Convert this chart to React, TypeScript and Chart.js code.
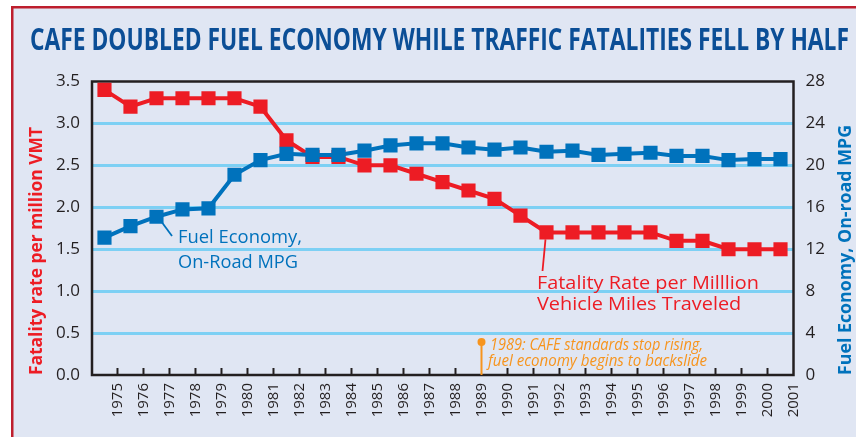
import React, { useEffect, useRef } from 'react';
import { Chart, registerables } from 'chart.js';

Chart.register(...registerables);

// ---------- data ----------
const years = [1975, 1976, 1977, 1978, 1979, 1980, 1981, 1982, 1983, 1984, 1985, 1986, 1987, 1988, 1989, 1990, 1991, 1992, 1993, 1994, 1995, 1996, 1997, 1998, 1999, 2000, 2001];
const fatalityRate = [3.4, 3.2, 3.3, 3.3, 3.3, 3.3, 3.2, 2.8, 2.6, 2.6, 2.5, 2.5, 2.4, 2.3, 2.2, 2.1, 1.9, 1.7, 1.7, 1.7, 1.7, 1.7, 1.6, 1.6, 1.5, 1.5, 1.5];
const fuelEconomy = [13.1, 14.2, 15.1, 15.8, 15.9, 19.1, 20.5, 21.1, 21.0, 21.0, 21.4, 21.9, 22.1, 22.1, 21.7, 21.5, 21.7, 21.3, 21.4, 21.0, 21.1, 21.2, 20.9, 20.9, 20.5, 20.6, 20.6];
const leftMin = 0;
const leftMax = 3.5;
const leftStep = 0.5;
const rightMin = 0;
const rightMax = 28;
const rightStep = 4;
const markerYear = 1989;

const TITLE = 'CAFE DOUBLED FUEL ECONOMY WHILE TRAFFIC FATALITIES FELL BY HALF';
const LEFT_TITLE = 'Fatality rate per million VMT';
const RIGHT_TITLE = 'Fuel Economy, On-road MPG';
const BLUE_LABEL = ['Fuel Economy,', 'On-Road MPG'];
const RED_LABEL = ['Fatality Rate per Milllion', 'Vehicle Miles Traveled'];
const NOTE = ['1989: CAFE standards stop rising,', 'fuel economy begins to backslide'];

// ---------- styles ----------
const RED = '#ed1c24';
const BLUE = '#0072bc';
const ORANGE = '#f7941d';
const GRID = '#7dd0f4';
const BG = '#e0e6f3';
const FRAME_RED = '#be1e2d';
const TITLE_COLOR = '#0b4e96';
const INK = '#231f20';
const FONT = "'Open Sans'";

function drawFitted(
  ctx: CanvasRenderingContext2D,
  text: string,
  x: number,
  y: number,
  width: number,
  font: string,
  color: string,
  align: CanvasTextAlign,
  angle = 0
) {
  ctx.save();
  ctx.font = font;
  const w = ctx.measureText(text).width;
  ctx.translate(x, y);
  if (angle) ctx.rotate(angle);
  ctx.scale(width / w, 1);
  ctx.fillStyle = color;
  ctx.textAlign = align;
  ctx.textBaseline = 'alphabetic';
  ctx.fillText(text, 0, 0);
  ctx.restore();
}

function drawScaled(
  ctx: CanvasRenderingContext2D,
  text: string,
  x: number,
  y: number,
  sx: number,
  font: string,
  color: string
) {
  ctx.save();
  ctx.font = font;
  ctx.translate(x, y);
  ctx.scale(sx, 1);
  ctx.fillStyle = color;
  ctx.textAlign = 'left';
  ctx.textBaseline = 'alphabetic';
  ctx.fillText(text, 0, 0);
  ctx.restore();
}

const decor = {
  id: 'decor',
  beforeDraw(chart: any) {
    const ctx = chart.ctx as CanvasRenderingContext2D;
    const W = chart.width;
    const H = chart.height;
    ctx.save();
    ctx.fillStyle = '#ffffff';
    ctx.fillRect(0, 0, W, H);
    ctx.fillStyle = BG;
    ctx.fillRect(12, 7, W - 12, H - 7);
    ctx.strokeStyle = FRAME_RED;
    ctx.lineWidth = 2.5;
    ctx.beginPath();
    ctx.moveTo(12.25, H);
    ctx.lineTo(12.25, 7.25);
    ctx.lineTo(W, 7.25);
    ctx.stroke();
    ctx.restore();
  },
  beforeDatasetsDraw(chart: any) {
    const ctx = chart.ctx as CanvasRenderingContext2D;
    const a = chart.chartArea;
    const xs = chart.scales.x;
    ctx.save();
    // tick marks (inside)
    ctx.strokeStyle = INK;
    ctx.lineWidth = 2;
    xs.ticks.forEach((t: any, i: number) => {
      const px = xs.getPixelForValue(t.value);
      if (px >= a.right - 2 || years[i] === markerYear) return;
      ctx.beginPath();
      ctx.moveTo(px, a.bottom);
      ctx.lineTo(px, a.bottom - 7);
      ctx.stroke();
    });
    // frame
    ctx.lineWidth = 2.5;
    ctx.strokeRect(a.left, a.top, a.right - a.left, a.bottom - a.top);
    ctx.restore();
  },
  afterDraw(chart: any) {
    const ctx = chart.ctx as CanvasRenderingContext2D;
    const a = chart.chartArea;
    const xs = chart.scales.x;
    const yl = chart.scales.y;
    const yr = chart.scales.y1;

    // title
    drawFitted(ctx, TITLE, 439.5, 50, 819, `bold 31px ${FONT}`, TITLE_COLOR, 'center');
    // axis titles
    drawFitted(ctx, LEFT_TITLE, 41.5, 251, 248, `bold 18px ${FONT}`, RED, 'center', -Math.PI / 2);
    drawFitted(ctx, RIGHT_TITLE, 850.5, 250, 250, `bold 18px ${FONT}`, BLUE, 'center', -Math.PI / 2);

    // blue label + leader
    const bi = years.indexOf(1977);
    const bx = xs.getPixelForValue(years[bi]);
    const by = yr.getPixelForValue(fuelEconomy[bi]);
    ctx.save();
    ctx.strokeStyle = BLUE;
    ctx.lineWidth = 1.8;
    ctx.beginPath();
    ctx.moveTo(bx + 5, by + 5);
    ctx.lineTo(172, 236);
    ctx.stroke();
    ctx.restore();
    drawFitted(ctx, BLUE_LABEL[0], 178, 242.7, 124, `18px ${FONT}`, BLUE, 'left');
    drawFitted(ctx, BLUE_LABEL[1], 178, 268.3, 120, `18px ${FONT}`, BLUE, 'left');

    // red label + leader
    const ri = years.indexOf(1992);
    const rx = xs.getPixelForValue(years[ri]);
    const ry = yl.getPixelForValue(fatalityRate[ri]);
    ctx.save();
    ctx.strokeStyle = RED;
    ctx.lineWidth = 1.8;
    ctx.beginPath();
    ctx.moveTo(rx - 1, ry + 7);
    ctx.lineTo(rx - 4, 271);
    ctx.stroke();
    ctx.restore();
    ctx.save();
    ctx.font = `18px ${FONT}`;
    const redScale = 222 / ctx.measureText(RED_LABEL[0]).width;
    ctx.restore();
    drawScaled(ctx, RED_LABEL[0], 537, 289, redScale, `18px ${FONT}`, RED);
    drawScaled(ctx, RED_LABEL[1], 537, 310, redScale, `18px ${FONT}`, RED);

    // 1989 marker
    const mx = xs.getPixelForValue(markerYear + 0.5);
    ctx.save();
    ctx.strokeStyle = ORANGE;
    ctx.fillStyle = ORANGE;
    ctx.lineWidth = 2;
    ctx.beginPath();
    ctx.moveTo(mx, a.bottom);
    ctx.lineTo(mx, 342);
    ctx.stroke();
    ctx.beginPath();
    ctx.arc(mx, 342, 4, 0, Math.PI * 2);
    ctx.fill();
    ctx.restore();
    drawFitted(ctx, NOTE[0], 490, 350, 213, `italic 16px ${FONT}`, ORANGE, 'left');
    drawFitted(ctx, NOTE[1], 488, 366, 219, `italic 16px ${FONT}`, ORANGE, 'left');
  },
};

export default function App() {
  const ref = useRef<HTMLCanvasElement | null>(null);

  useEffect(() => {
    if (!ref.current) return;
    const chart = new Chart(ref.current, {
      type: 'line',
      data: {
        datasets: [
          {
            label: 'Fuel Economy, On-Road MPG',
            data: years.map((y, i) => ({ x: y, y: fuelEconomy[i] })),
            yAxisID: 'y1',
            borderColor: BLUE,
            backgroundColor: BLUE,
            borderWidth: 4,
            pointStyle: 'rect',
            pointRadius: 10,
            pointBorderWidth: 0,
            pointBackgroundColor: BLUE,
            tension: 0,
            order: 0,
          },
          {
            label: 'Fatality Rate per Million Vehicle Miles Traveled',
            data: years.map((y, i) => ({ x: y, y: fatalityRate[i] })),
            yAxisID: 'y',
            borderColor: RED,
            backgroundColor: RED,
            borderWidth: 4,
            pointStyle: 'rect',
            pointRadius: 10,
            pointBorderWidth: 0,
            pointBackgroundColor: RED,
            tension: 0,
            order: 1,
          },
        ],
      },
      options: {
        responsive: false,
        animation: false,
        events: [],
        layout: { padding: { top: 81.5, left: 0, right: 0, bottom: 0 } },
        plugins: { legend: { display: false }, tooltip: { enabled: false } },
        scales: {
          x: {
            type: 'linear',
            min: years[0] - 0.48,
            max: years[years.length - 1] + 0.5,
            afterBuildTicks: (s: any) => {
              s.ticks = years.map((y) => ({ value: y + 0.5 }));
            },
            afterFit: (s: any) => {
              s.height = 62;
            },
            grid: { display: false, drawTicks: false },
            border: { display: false },
            ticks: {
              autoSkip: false,
              minRotation: 90,
              maxRotation: 90,
              padding: 8,
              color: INK,
              font: { family: 'Open Sans', size: 15 },
              callback: (_v: any, i: number) => String(years[i]),
            },
          },
          y: {
            position: 'left',
            min: leftMin,
            max: leftMax,
            afterFit: (s: any) => {
              s.width = 92;
            },
            border: { display: false },
            grid: {
              drawTicks: false,
              lineWidth: 3,
              color: (c: any) =>
                c.tick && c.tick.value > leftMin && c.tick.value < leftMax ? GRID : 'rgba(0,0,0,0)',
            },
            ticks: {
              stepSize: leftStep,
              padding: 12,
              color: INK,
              font: { family: 'Open Sans', size: 17 },
              callback: (v: any) => Number(v).toFixed(1),
            },
          },
          y1: {
            position: 'right',
            min: rightMin,
            max: rightMax,
            afterFit: (s: any) => {
              s.width = 62.5;
            },
            border: { display: false },
            grid: { display: false, drawTicks: false },
            ticks: {
              stepSize: rightStep,
              padding: 12,
              color: INK,
              font: { family: 'Open Sans', size: 17 },
              callback: (v: any) => String(v),
            },
          },
        },
      } as any,
      plugins: [decor],
    });
    return () => chart.destroy();
  }, []);

  return (
    <div style={{ position: 'fixed', left: 0, top: 0, width: 856, height: 437 }}>
      <canvas ref={ref} width={856} height={437} style={{ display: 'block' }} />
    </div>
  );
}
